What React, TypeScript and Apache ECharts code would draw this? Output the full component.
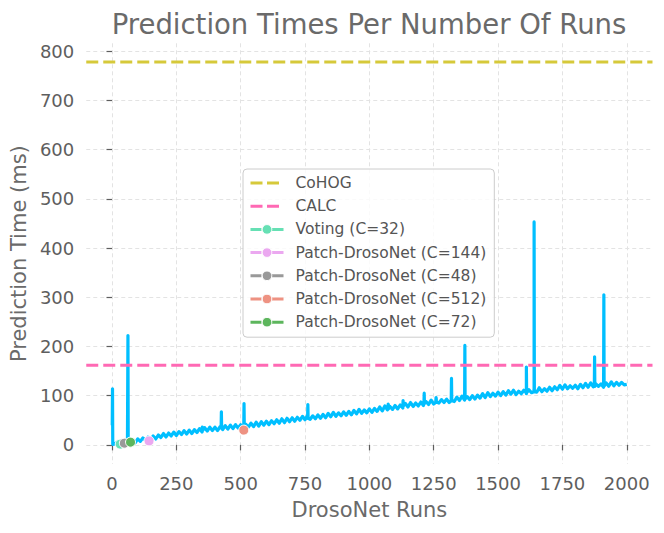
import React, { useEffect, useRef } from "react";
import * as echarts from "echarts";

const xTicks = [0, 250, 500, 750, 1000, 1250, 1500, 1750, 2000];
const yTicks = [0, 100, 200, 300, 400, 500, 600, 700, 800];

const cohogTime = 778;
const calcTime = 162;

// first runs of the DrosoNet curve
const headRuns = [1, 2, 3];
const headTimes = [40, 114, 1];

// DrosoNet prediction time sampled every 10 runs, from run 10 to run 2000
const baseStartRun = 10;
const baseStepRuns = 10;
const baseTimes = [
  2, 5, 0, 4, 2, 6, 3, 7, 4,
  12, 7, 14, 9, 16, 11, 18, 12, 20, 15,
  23, 16, 24, 18, 26, 19, 27, 21, 29, 22,
  30, 23, 31, 25, 33, 26, 35, 28, 36, 29,
  36, 29, 37, 31, 39, 32, 40, 33, 41, 34,
  41, 34, 42, 36, 44, 37, 46, 38, 47, 40,
  48, 41, 49, 43, 51, 44, 53, 45, 54, 47,
  55, 48, 56, 50, 58, 51, 60, 52, 59, 53,
  61, 54, 62, 55, 64, 57, 66, 58, 65, 59,
  67, 60, 68, 61, 70, 63, 72, 64, 71, 65,
  73, 66, 74, 68, 77, 69, 79, 71, 78, 72,
  80, 73, 81, 75, 84, 77, 86, 78, 85, 79,
  87, 80, 88, 82, 91, 83, 93, 85, 92, 86,
  93, 86, 95, 88, 97, 90, 99, 91, 98, 92,
  100, 93, 101, 95, 104, 96, 106, 98, 105, 99,
  107, 100, 108, 101, 110, 103, 111, 102, 109, 104,
  111, 104, 112, 106, 115, 107, 116, 108, 114, 109,
  117, 110, 118, 112, 121, 113, 122, 114, 120, 115,
  121, 114, 123, 116, 125, 117, 126, 118, 124, 119,
  124, 117, 126, 119, 128, 120, 127, 121, 127, 122,
  123,
];

// spikes (with their neighbouring runs)
const spikeRuns = [
  61, 62, 63, 350, 351, 352, 424, 425, 426, 512, 513, 514, 760, 761, 762,
  1072, 1073, 1074, 1130, 1131, 1132, 1212, 1213, 1214, 1258, 1259, 1260,
  1318, 1319, 1320, 1370, 1371, 1372, 1609, 1610, 1611, 1639, 1640, 1641,
  1874, 1875, 1876, 1910, 1911, 1912,
];
const spikeTimes = [
  6, 222, 6, 29, 36, 29, 34, 67, 34, 38, 84, 38, 54, 82, 54,
  73, 83, 73, 79, 90, 79, 84, 105, 84, 87, 96, 87,
  90, 135, 90, 93, 202, 93, 106, 158, 106, 108, 453, 108,
  119, 179, 119, 119, 305, 119,
];

const markerNames = [
  "Voting (C=32)",
  "Patch-DrosoNet (C=144)",
  "Patch-DrosoNet (C=48)",
  "Patch-DrosoNet (C=512)",
  "Patch-DrosoNet (C=72)",
];
const markerRuns = [32, 144, 48, 512, 72];
const markerTimes = [1.5, 8, 3.4, 30, 5.5];
const markerColors = ["#66E0B4", "#EBA8F0", "#999999", "#EE9282", "#5DB65D"];

const FONT = "DejaVu Sans";

export default function App() {
  const ref = useRef<HTMLDivElement>(null);

  useEffect(() => {
    if (!ref.current) return;
    const chart = echarts.init(ref.current, undefined, { renderer: "svg" });

    const pts: [number, number][] = [];
    headRuns.forEach((r, i) => pts.push([r, headTimes[i]]));
    baseTimes.forEach((t, i) => pts.push([baseStartRun + i * baseStepRuns, t]));
    spikeRuns.forEach((r, i) => pts.push([r, spikeTimes[i]]));
    pts.sort((a, b) => a[0] - b[0]);

    const xMin = -100;
    const xMax = 2100;

    const series: any[] = [
      {
        name: "DrosoNet",
        type: "line",
        data: pts,
        showSymbol: false,
        symbol: "none",
        lineStyle: { color: "#00BFFF", width: 3.2, join: "round" },
        itemStyle: { color: "#00BFFF" },
        z: 2,
      },
      {
        name: "CoHOG",
        type: "line",
        data: [[xMin, cohogTime], [xMax, cohogTime]],
        showSymbol: false,
        lineStyle: { color: "#D6C93A", width: 3, type: [12, 5] },
        itemStyle: { color: "#D6C93A" },
        z: 3,
      },
      {
        name: "CALC",
        type: "line",
        data: [[xMin, calcTime], [xMax, calcTime]],
        showSymbol: false,
        lineStyle: { color: "#FF69B4", width: 3, type: [12, 5] },
        itemStyle: { color: "#FF69B4" },
        z: 3,
      },
      ...markerNames.map((n, i) => ({
        name: n,
        type: "line",
        data: [[markerRuns[i], markerTimes[i]]],
        symbol: "circle",
        symbolSize: 10,
        showSymbol: true,
        lineStyle: { color: markerColors[i], width: 3, type: [12, 5] },
        itemStyle: { color: markerColors[i], borderColor: "#ffffff", borderWidth: 1 },
        z: 5,
      })),
    ];

    const legendData: any[] = [
      { name: "CoHOG", itemStyle: { opacity: 0 }, lineStyle: { type: [12, 4.5, 12, 20] } },
      { name: "CALC", itemStyle: { opacity: 0 }, lineStyle: { type: [12, 4.5, 12, 20] } },
      ...markerNames.map((n) => ({ name: n, lineStyle: { type: [11, 1.5, 30] } })),
    ];

    chart.setOption({
      animation: false,
      backgroundColor: "#ffffff",
      textStyle: { fontFamily: FONT },
      title: {
        text: "Prediction Times Per Number Of Runs",
        left: 369,
        top: 9.5,
        padding: 0,
        textAlign: "center",
        textStyle: { fontFamily: FONT, fontSize: 27.5, fontWeight: "normal", color: "#6a6a6a" },
      },
      grid: { left: 86, right: 11.5, top: 43.3, bottom: 69, containLabel: false },
      legend: {
        data: legendData,
        orient: "vertical",
        left: 243,
        top: 169,
        padding: [6, 8, 7, 6],
        itemWidth: 33,
        itemHeight: 12,
        itemGap: 7.2,
        backgroundColor: "rgba(255,255,255,0.8)",
        borderColor: "#cccccc",
        borderWidth: 1,
        borderRadius: 4,
        lineStyle: { width: 3 },
        itemStyle: { borderWidth: 1, borderColor: "#ffffff" },
        textStyle: { fontFamily: FONT, fontSize: 15.5, color: "#555555", lineHeight: 16, padding: [0, 0, 0, 7] },
      },
      xAxis: {
        type: "value",
        min: xMin,
        max: xMax,
        name: "DrosoNet Runs",
        nameLocation: "middle",
        nameGap: 35,
        nameTextStyle: { fontFamily: FONT, fontSize: 21, color: "#6a6a6a" },
        axisLine: { show: false },
        axisTick: { show: true, length: 5.5, customValues: xTicks, lineStyle: { color: "#5e5e5e", width: 1.2 } },
        axisLabel: {
          customValues: xTicks,
          fontSize: 18,
          color: "#5e5e5e",
          margin: 10.5,
          fontFamily: FONT,
          formatter: (v: number) => String(v),
        },
        splitLine: { show: true, lineStyle: { color: "#e3e3e3", width: 1, type: [4, 3] } },
      },
      yAxis: {
        type: "value",
        min: -38.9,
        max: 816,
        name: "Prediction Time (ms)",
        nameLocation: "middle",
        nameGap: 55,
        nameTextStyle: { fontFamily: FONT, fontSize: 21, color: "#6a6a6a" },
        axisLine: { show: false },
        axisTick: { show: true, length: 5.5, customValues: yTicks, lineStyle: { color: "#5e5e5e", width: 1.2 } },
        axisLabel: {
          customValues: yTicks,
          fontSize: 18,
          color: "#5e5e5e",
          margin: 12,
          fontFamily: FONT,
          formatter: (v: number) => String(v),
        },
        splitLine: { show: true, lineStyle: { color: "#e3e3e3", width: 1, type: [4, 3] } },
      },
      series,
    });

    return () => chart.dispose();
  }, []);

  return (
    <div
      ref={ref}
      style={{ position: "absolute", left: 0, top: 0, width: 664, height: 533, background: "#fff" }}
    />
  );
}
